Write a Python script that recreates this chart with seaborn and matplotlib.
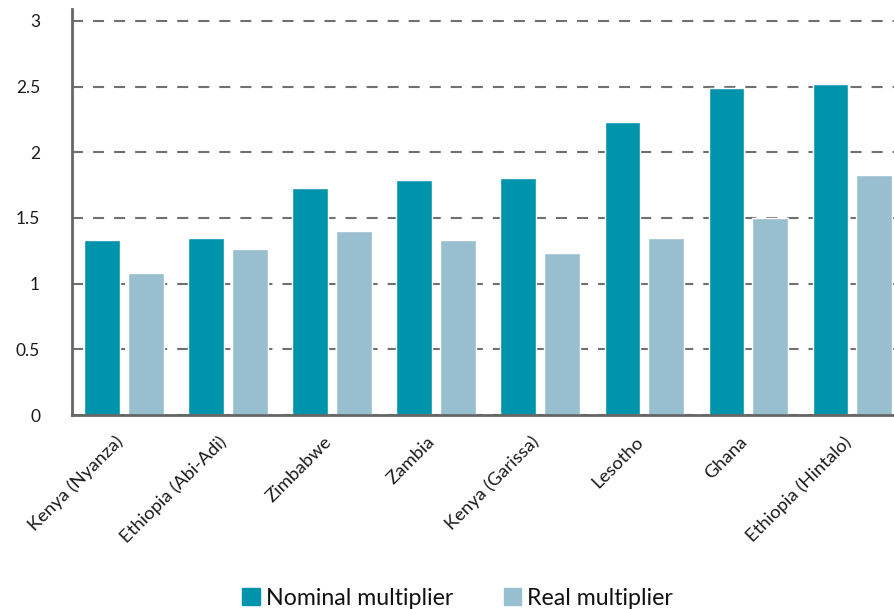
import pandas as pd
import seaborn as sns
import matplotlib.pyplot as plt

regions = ["Kenya (Nyanza)", "Ethiopia (Abi-Adi)", "Zimbabwe", "Zambia",
           "Kenya (Garissa)", "Lesotho", "Ghana", "Ethiopia (Hintalo)"]
nominal = [1.33, 1.35, 1.73, 1.79, 1.80, 2.23, 2.49, 2.52]
real = [1.08, 1.26, 1.40, 1.33, 1.23, 1.35, 1.50, 1.83]
series = ["Nominal multiplier", "Real multiplier"]
colors = ["#0094ac", "#98bfcf"]
yticks = [0, 0.5, 1, 1.5, 2, 2.5, 3]
ytick_labels = ["0", "0.5", "1", "1.5", "2", "2.5", "3"]

df = pd.DataFrame({
    "region": regions * 2,
    "value": nominal + real,
    "series": [series[0]] * len(regions) + [series[1]] * len(regions),
})

sns.set_theme(style="white")
plt.rcParams["font.family"] = ["Lato", "DejaVu Sans"]

fig = plt.figure(figsize=(8.94, 6.09), dpi=100)
ax = fig.add_axes([72 / 894, 1 - 415 / 609, 1 - 72 / 894, (415 - 9) / 609])

sns.barplot(data=df, x="region", y="value", hue="series", palette=colors,
            width=0.84, gap=0.18, saturation=1, ax=ax, zorder=3)

ax.set_xlim(-0.5, 7.4)
ax.set_ylim(0, 3.09)
ax.set_yticks(yticks)
ax.set_yticklabels(ytick_labels)
ax.yaxis.grid(True, color="#707070", linewidth=1.5, linestyle=(0, (5.3, 4.8)), zorder=0)
ax.set_axisbelow(True)
ax.set_xlabel("")
ax.set_ylabel("")

for side in ["top", "right"]:
    ax.spines[side].set_visible(False)
for side in ["left", "bottom"]:
    ax.spines[side].set_color("#666666")
    ax.spines[side].set_linewidth(2)
    ax.spines[side].set_zorder(4)

ax.tick_params(axis="y", length=0, pad=23, labelsize=12.5, labelcolor="#1a1a1a")
ax.tick_params(axis="x", length=0, pad=20, labelsize=13.3, labelcolor="#1a1a1a")
plt.setp(ax.get_xticklabels(), rotation=45, ha="right", va="baseline", rotation_mode="anchor")

ax.legend_.remove()
handles = [plt.Rectangle((0, 0), 1, 1, color=c) for c in colors]
fig.legend(handles, series, loc="center", bbox_to_anchor=(0.512, 0.018), ncol=2,
           frameon=False, fontsize=16.7, handlelength=0.75, handleheight=0.75,
           handletextpad=0.25, columnspacing=2.2, labelcolor="#111111")

fig.savefig("out.png", dpi=100)
